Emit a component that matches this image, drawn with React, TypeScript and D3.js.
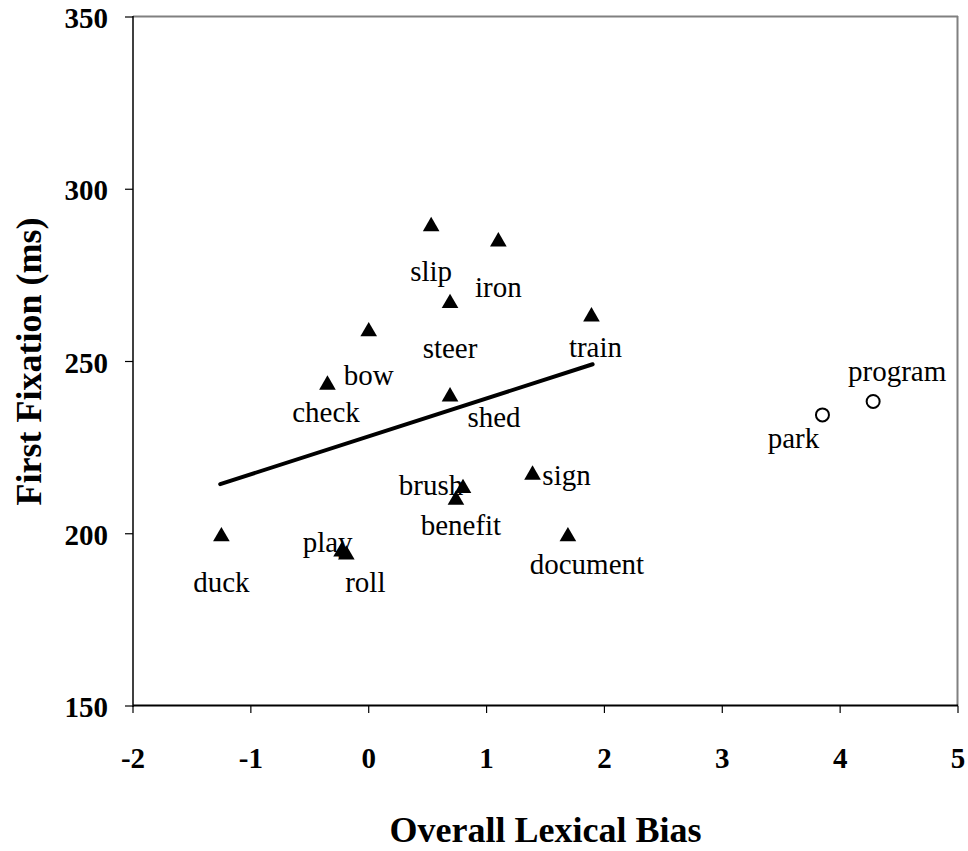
import React from "react";
import * as d3 from "d3";

// words plotted with filled triangles
const triangleWords = ["slip", "iron", "steer", "bow", "check", "shed", "train", "duck", "play", "roll", "brush", "benefit", "sign", "document"];
const triangleBias = [0.53, 1.1, 0.69, 0.0, -0.35, 0.69, 1.89, -1.25, -0.23, -0.19, 0.8, 0.74, 1.39, 1.69];
const triangleFixation = [289.2, 284.8, 266.9, 258.7, 243.2, 239.8, 263.0, 199.2, 194.8, 193.9, 213.2, 209.8, 217.1, 199.2];

// words plotted with open circles
const circleWords = ["park", "program"];
const circleBias = [3.85, 4.28];
const circleFixation = [234.5, 238.4];

// fitted line through the triangle words
const fitBias = [-1.26, 1.9];
const fitFixation = [214.4, 249.2];

const xTicks = [-2, -1, 0, 1, 2, 3, 4, 5];
const yTicks = [150, 200, 250, 300, 350];

// label placement (pixel offsets from the marker)
const labelOffset: Record<string, [number, number]> = {
  slip: [0, 55],
  iron: [0, 55],
  steer: [0, 55],
  bow: [0, 53],
  check: [-1.5, 37],
  shed: [44, 30],
  train: [4, 40],
  duck: [0, 55],
  play: [-14, 0],
  roll: [19, 37],
  brush: [-32, 7],
  benefit: [5, 35],
  sign: [34, 10],
  document: [19, 37],
  park: [-29, 33],
  program: [24, -20],
};

const width = 968;
const height = 851;
const left = 133;
const right = 958;
const top = 17;
const bottom = 706;
const font = "'Liberation Serif', 'Times New Roman', serif";

const x = d3.scaleLinear().domain([-2, 5]).range([left, right]);
const y = d3.scaleLinear().domain([150, 350]).range([bottom, top]);

const triangle = d3.symbol().type(d3.symbolTriangle).size(120);
const fitLine = d3
  .line<number>()
  .x((d) => x(d))
  .y((_, i) => y(fitFixation[i]));

const App = () => {
  return (
    <svg
      width={width}
      height={height}
      style={{ position: "absolute", left: 0, top: 0, display: "block", background: "white" }}
      fontFamily={font}
    >
      <rect width={width} height={height} fill="white" />
      {/* frame */}
      <line x1={left} x2={right} y1={top - 0.5} y2={top - 0.5} stroke="#808080" strokeWidth={2} />
      <line x1={right - 0.5} x2={right - 0.5} y1={top - 1} y2={bottom} stroke="#808080" strokeWidth={2} />
      <line x1={left} x2={left} y1={top - 1} y2={bottom + 1} stroke="black" strokeWidth={1.5} />
      <line x1={left} x2={right} y1={bottom - 0.5} y2={bottom - 0.5} stroke="black" strokeWidth={2} />

      {/* y axis */}
      {yTicks.map((t) => (
        <g key={"y" + t}>
          <line x1={left - 8} x2={left} y1={y(t)} y2={y(t)} stroke="black" strokeWidth={1.2} />
          <text x={108} y={y(t) + 11} textAnchor="end" fontSize={29} fontWeight="bold">
            {t}
          </text>
        </g>
      ))}

      {/* x axis */}
      {xTicks.map((t) => (
        <g key={"x" + t}>
          <line x1={x(t)} x2={x(t)} y1={bottom} y2={bottom + 7} stroke="black" strokeWidth={1.2} />
          <text x={x(t)} y={768} textAnchor="middle" fontSize={29} fontWeight="bold">
            {t}
          </text>
        </g>
      ))}

      <text x={(left + right) / 2} y={842} textAnchor="middle" fontSize={36} fontWeight="bold">
        Overall Lexical Bias
      </text>
      <text
        transform={`translate(41, ${(top + bottom) / 2}) rotate(-90)`}
        textAnchor="middle"
        fontSize={36}
        fontWeight="bold"
      >
        First Fixation (ms)
      </text>

      <path d={fitLine(fitBias) || ""} stroke="black" strokeWidth={4} fill="none" strokeLinecap="round" />

      {triangleWords.map((w, i) => (
        <path
          key={w}
          d={triangle() || ""}
          transform={`translate(${x(triangleBias[i])}, ${y(triangleFixation[i])})`}
          fill="black"
        />
      ))}
      {circleWords.map((w, i) => (
        <circle
          key={w}
          cx={x(circleBias[i])}
          cy={y(circleFixation[i])}
          r={6.5}
          fill="white"
          stroke="black"
          strokeWidth={2}
        />
      ))}

      {triangleWords.map((w, i) => (
        <text
          key={"t" + w}
          x={x(triangleBias[i]) + labelOffset[w][0]}
          y={y(triangleFixation[i]) + labelOffset[w][1]}
          textAnchor="middle"
          fontSize={29}
        >
          {w}
        </text>
      ))}
      {circleWords.map((w, i) => (
        <text
          key={"c" + w}
          x={x(circleBias[i]) + labelOffset[w][0]}
          y={y(circleFixation[i]) + labelOffset[w][1]}
          textAnchor="middle"
          fontSize={29}
        >
          {w}
        </text>
      ))}
    </svg>
  );
};

export default App;
